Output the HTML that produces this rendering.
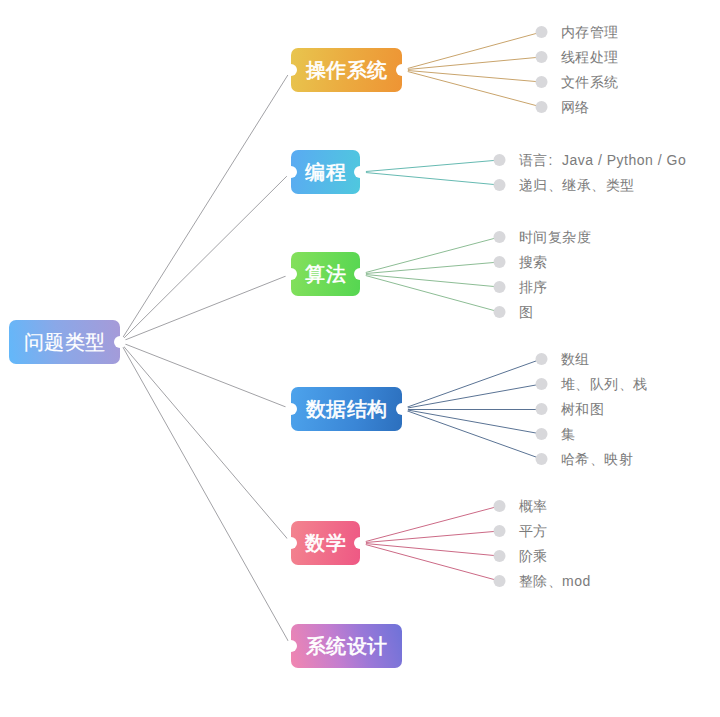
<!DOCTYPE html>
<html><head><meta charset="utf-8"><style>
html,body{margin:0;padding:0;background:#fff;}
body{width:720px;height:717px;position:relative;overflow:hidden;font-family:"Liberation Sans",sans-serif;}
svg{position:absolute;left:0;top:0;}
.box{position:absolute;border-radius:7px;color:#fff;font-size:20px;line-height:44px;text-align:center;font-weight:500;letter-spacing:0.5px;-webkit-text-stroke:0.6px #fff;}
.leaf{position:absolute;font-size:14px;line-height:20px;color:#7b7b7b;white-space:nowrap;letter-spacing:0.5px;}
#top{z-index:2}
</style></head><body>
<svg width="720" height="717" style="z-index:0">
<line x1="120" y1="342" x2="291" y2="70" stroke="#a2a2a6" stroke-width="1"/>
<line x1="120" y1="342" x2="291" y2="172" stroke="#a2a2a6" stroke-width="1"/>
<line x1="120" y1="342" x2="291" y2="274" stroke="#a2a2a6" stroke-width="1"/>
<line x1="120" y1="342" x2="291" y2="409" stroke="#a2a2a6" stroke-width="1"/>
<line x1="120" y1="342" x2="291" y2="543" stroke="#a2a2a6" stroke-width="1"/>
<line x1="120" y1="342" x2="291" y2="646" stroke="#a2a2a6" stroke-width="1"/>
<line x1="402" y1="70" x2="541.5" y2="32" stroke="#c9a46c" stroke-width="1"/>
<line x1="402" y1="70" x2="541.5" y2="57" stroke="#c9a46c" stroke-width="1"/>
<line x1="402" y1="70" x2="541.5" y2="82" stroke="#c9a46c" stroke-width="1"/>
<line x1="402" y1="70" x2="541.5" y2="107" stroke="#c9a46c" stroke-width="1"/>
<line x1="360" y1="172" x2="499.5" y2="160" stroke="#66bab2" stroke-width="1"/>
<line x1="360" y1="172" x2="499.5" y2="185" stroke="#66bab2" stroke-width="1"/>
<line x1="360" y1="274" x2="499.5" y2="237" stroke="#8dbd95" stroke-width="1"/>
<line x1="360" y1="274" x2="499.5" y2="262" stroke="#8dbd95" stroke-width="1"/>
<line x1="360" y1="274" x2="499.5" y2="287" stroke="#8dbd95" stroke-width="1"/>
<line x1="360" y1="274" x2="499.5" y2="312" stroke="#8dbd95" stroke-width="1"/>
<line x1="402" y1="409" x2="541.5" y2="359" stroke="#5a7394" stroke-width="1"/>
<line x1="402" y1="409" x2="541.5" y2="384" stroke="#5a7394" stroke-width="1"/>
<line x1="402" y1="409.5" x2="541.5" y2="409.5" stroke="#5a7394" stroke-width="1"/>
<line x1="402" y1="409" x2="541.5" y2="434" stroke="#5a7394" stroke-width="1"/>
<line x1="402" y1="409" x2="541.5" y2="459" stroke="#5a7394" stroke-width="1"/>
<line x1="360" y1="543" x2="499.5" y2="506" stroke="#cc6a86" stroke-width="1"/>
<line x1="360" y1="543" x2="499.5" y2="531" stroke="#cc6a86" stroke-width="1"/>
<line x1="360" y1="543" x2="499.5" y2="556" stroke="#cc6a86" stroke-width="1"/>
<line x1="360" y1="543" x2="499.5" y2="581" stroke="#cc6a86" stroke-width="1"/>
</svg>
<div class="box" style="left:9px;top:320px;width:111px;height:44px;background:linear-gradient(80deg,#62b8fa 0%,#8aa8e8 45%,#a69ad8 100%);-webkit-text-stroke:0.2px #fff">问题类型</div>
<div class="box" style="left:291px;top:48px;width:111px;height:44px;background:linear-gradient(100deg,#e8c54e 0%,#ebab40 50%,#ee9434 100%)">操作系统</div>
<div class="box" style="left:291px;top:150px;width:69px;height:44px;background:linear-gradient(100deg,#5aaaf2 0%,#4fc8de 100%)">编程</div>
<div class="box" style="left:291px;top:252px;width:69px;height:44px;background:linear-gradient(100deg,#85e05c 0%,#55d651 100%)">算法</div>
<div class="box" style="left:291px;top:387px;width:111px;height:44px;background:linear-gradient(100deg,#4da3ec 0%,#3a86d6 60%,#2c6fbd 100%)">数据结构</div>
<div class="box" style="left:291px;top:521px;width:69px;height:44px;background:linear-gradient(100deg,#f3848f 0%,#ee5884 100%)">数学</div>
<div class="box" style="left:291px;top:624px;width:111px;height:44px;background:linear-gradient(72deg,#f286b0 0%,#c47dcf 40%,#9a78d8 65%,#6e72d8 100%)">系统设计</div>
<svg id="top" width="720" height="717">
<circle cx="120" cy="342" r="6" fill="#fff"/>
<circle cx="291" cy="70" r="6" fill="#fff"/>
<circle cx="402" cy="70" r="6" fill="#fff"/>
<circle cx="291" cy="172" r="6" fill="#fff"/>
<circle cx="360" cy="172" r="6" fill="#fff"/>
<circle cx="291" cy="274" r="6" fill="#fff"/>
<circle cx="360" cy="274" r="6" fill="#fff"/>
<circle cx="291" cy="409" r="6" fill="#fff"/>
<circle cx="402" cy="409" r="6" fill="#fff"/>
<circle cx="291" cy="543" r="6" fill="#fff"/>
<circle cx="360" cy="543" r="6" fill="#fff"/>
<circle cx="291" cy="646" r="6" fill="#fff"/>
<circle cx="541.5" cy="32" r="6" fill="#d8d8db"/>
<circle cx="541.5" cy="57" r="6" fill="#d8d8db"/>
<circle cx="541.5" cy="82" r="6" fill="#d8d8db"/>
<circle cx="541.5" cy="107" r="6" fill="#d8d8db"/>
<circle cx="499.5" cy="160" r="6" fill="#d8d8db"/>
<circle cx="499.5" cy="185" r="6" fill="#d8d8db"/>
<circle cx="499.5" cy="237" r="6" fill="#d8d8db"/>
<circle cx="499.5" cy="262" r="6" fill="#d8d8db"/>
<circle cx="499.5" cy="287" r="6" fill="#d8d8db"/>
<circle cx="499.5" cy="312" r="6" fill="#d8d8db"/>
<circle cx="541.5" cy="359" r="6" fill="#d8d8db"/>
<circle cx="541.5" cy="384" r="6" fill="#d8d8db"/>
<circle cx="541.5" cy="409" r="6" fill="#d8d8db"/>
<circle cx="541.5" cy="434" r="6" fill="#d8d8db"/>
<circle cx="541.5" cy="459" r="6" fill="#d8d8db"/>
<circle cx="499.5" cy="506" r="6" fill="#d8d8db"/>
<circle cx="499.5" cy="531" r="6" fill="#d8d8db"/>
<circle cx="499.5" cy="556" r="6" fill="#d8d8db"/>
<circle cx="499.5" cy="581" r="6" fill="#d8d8db"/>
</svg>
<div class="leaf" style="left:560.5px;top:22px">内存管理</div>
<div class="leaf" style="left:560.5px;top:47px">线程处理</div>
<div class="leaf" style="left:560.5px;top:72px">文件系统</div>
<div class="leaf" style="left:560.5px;top:97px">网络</div>
<div class="leaf" style="left:518.5px;top:150px">语言<span style="display:inline-block;width:14.5px;padding-left:1px;box-sizing:border-box">:</span>Java / Python / Go</div>
<div class="leaf" style="left:518.5px;top:175px">递归、继承、类型</div>
<div class="leaf" style="left:518.5px;top:227px">时间复杂度</div>
<div class="leaf" style="left:518.5px;top:252px">搜索</div>
<div class="leaf" style="left:518.5px;top:277px">排序</div>
<div class="leaf" style="left:518.5px;top:302px">图</div>
<div class="leaf" style="left:560.5px;top:349px">数组</div>
<div class="leaf" style="left:560.5px;top:374px">堆、队列、栈</div>
<div class="leaf" style="left:560.5px;top:399px">树和图</div>
<div class="leaf" style="left:560.5px;top:424px">集</div>
<div class="leaf" style="left:560.5px;top:449px">哈希、映射</div>
<div class="leaf" style="left:518.5px;top:496px">概率</div>
<div class="leaf" style="left:518.5px;top:521px">平方</div>
<div class="leaf" style="left:518.5px;top:546px">阶乘</div>
<div class="leaf" style="left:518.5px;top:571px">整除、mod</div>
</body></html>
